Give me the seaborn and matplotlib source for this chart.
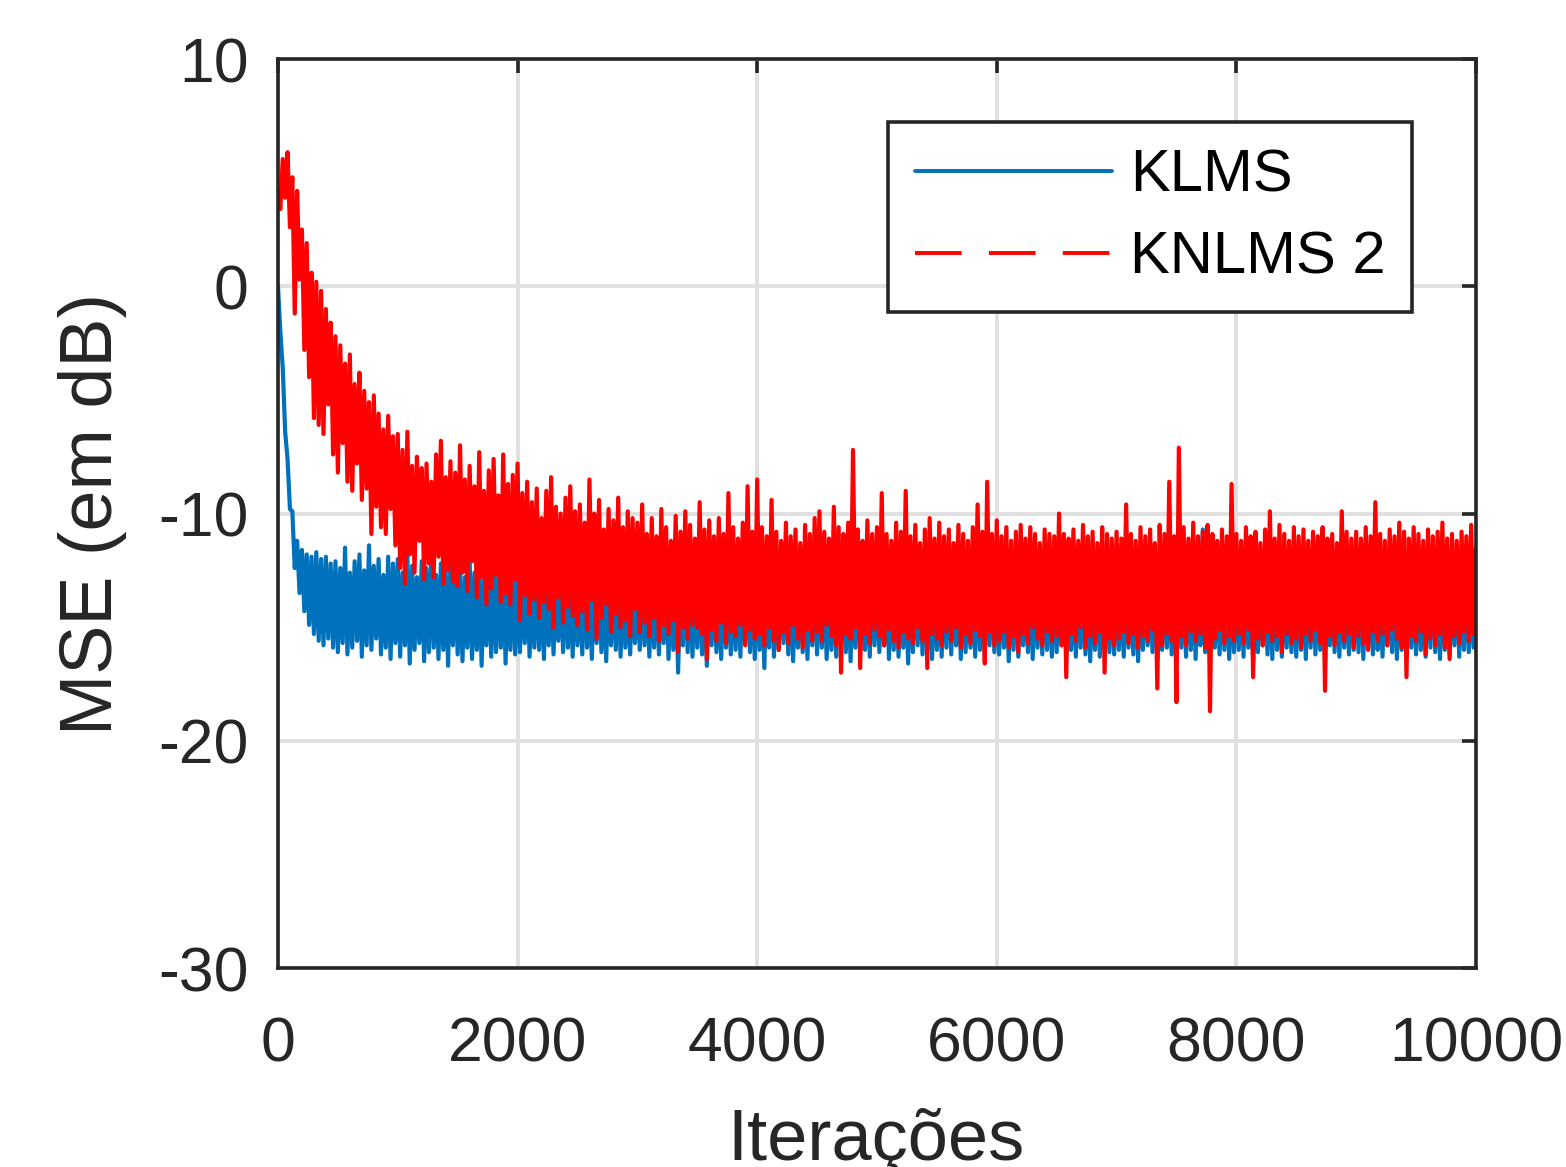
import numpy as np
import matplotlib
matplotlib.use('Agg')
import matplotlib.pyplot as plt
from matplotlib.lines import Line2D
import seaborn as sns

# iterations axis (one sample every 20 iterations)
iteracoes = np.arange(0, 10001, 20)

# MSE curves in dB (one line = 500 iterations);
# the values swing between the upper and lower edge of the noisy band
klms_db = [
    0.0, -2.0, -3.6, -6.4, -7.6, -9.8, -9.9, -12.4, -11.2, -13.5, -11.6, -14.3, -11.8, -14.9, -11.9, -15.3, -11.7, -15.6, -12.0, -15.8, -11.9, -15.5, -12.2, -15.9, -12.1,
    -16.1, -12.4, -15.7, -11.5, -16.2, -12.6, -15.9, -12.1, -15.6, -11.8, -16.3, -12.5, -15.8, -11.4, -16.0, -12.3, -15.5, -12.0, -16.2, -12.7, -15.9, -11.9, -16.4, -12.2, -15.7,
    -12.0, -16.3, -12.6, -15.8, -11.8, -16.6, -12.3, -16.0, -12.8, -15.7, -12.1, -16.5, -12.4, -16.1, -11.9, -15.9, -12.7, -16.4, -12.2, -16.0, -12.5, -16.7, -12.0, -15.8, -12.6,
    -16.2, -12.3, -16.5, -12.8, -15.9, -12.1, -16.4, -12.6, -16.0, -12.2, -16.7, -12.9, -15.8, -12.4, -16.3, -12.0, -16.1, -12.7, -15.9, -12.3, -16.6, -12.5, -16.0, -12.2, -16.2,
    -12.4, -16.1, -12.8, -15.7, -12.2, -16.3, -12.9, -15.9, -12.5, -16.0, -12.1, -16.4, -12.7, -15.8, -12.3, -16.2, -13.0, -15.6, -12.6, -16.1, -12.2, -15.9, -12.8, -16.3, -12.4,
    -15.8, -12.6, -16.2, -12.3, -15.9, -12.9, -16.4, -12.5, -15.7, -12.1, -16.1, -12.7, -16.5, -12.4, -15.8, -12.8, -16.0, -12.2, -16.3, -12.6, -15.9, -13.0, -16.2, -12.5, -15.7,
    -12.7, -16.0, -12.3, -15.8, -12.9, -16.3, -12.5, -15.9, -12.1, -16.2, -12.8, -15.7, -12.4, -16.4, -12.6, -16.0, -12.2, -17.0, -12.9, -15.8, -12.5, -16.1, -12.3, -16.3, -12.7,
    -15.9, -12.4, -16.2, -12.8, -16.7, -12.3, -15.8, -12.6, -16.1, -12.9, -16.4, -12.2, -15.9, -12.7, -16.2, -12.5, -16.0, -12.1, -16.3, -12.8, -15.7, -12.4, -16.1, -12.6, -16.4,
    -12.3, -16.0, -12.7, -16.8, -12.5, -15.9, -12.2, -16.3, -12.9, -16.0, -12.4, -15.7, -12.6, -16.2, -12.1, -16.5, -12.8, -15.9, -12.3, -16.1, -12.7, -16.4, -12.5, -15.8, -12.2,
    -16.2, -12.6, -15.9, -12.3, -16.4, -12.8, -16.0, -12.2, -16.3, -12.7, -15.8, -12.4, -16.1, -12.9, -16.5, -12.5, -15.9, -12.1, -16.2, -12.6, -16.0, -12.8, -16.3, -12.3, -15.8,
    -12.5, -16.1, -12.9, -15.8, -12.3, -16.4, -12.6, -16.0, -12.2, -16.3, -12.8, -15.9, -12.4, -16.6, -12.7, -16.1, -12.1, -15.8, -12.5, -16.2, -12.9, -16.0, -12.3, -16.4, -12.6,
    -16.0, -12.4, -16.3, -12.8, -15.9, -12.2, -16.2, -12.6, -15.8, -12.9, -16.4, -12.5, -16.1, -12.3, -15.9, -12.7, -16.3, -12.1, -16.0, -12.6, -16.2, -12.8, -15.8, -12.4, -16.1,
    -12.7, -16.2, -12.3, -15.9, -12.8, -16.5, -12.4, -16.0, -12.6, -16.3, -12.2, -15.8, -12.9, -16.1, -12.5, -16.4, -12.3, -15.9, -12.7, -16.2, -12.4, -16.0, -12.8, -16.3, -12.2,
    -16.1, -12.5, -15.8, -12.9, -16.4, -12.3, -16.0, -12.7, -16.3, -12.2, -15.9, -12.6, -16.2, -12.8, -16.5, -12.4, -16.0, -12.1, -16.3, -12.7, -15.8, -12.5, -16.1, -12.9, -16.2,
    -12.3, -16.0, -12.7, -16.3, -12.4, -15.9, -12.8, -16.2, -12.2, -16.5, -12.6, -16.0, -12.9, -15.8, -12.5, -16.1, -12.3, -16.4, -12.7, -16.0, -12.4, -15.9, -12.8, -16.2, -12.6,
    -16.2, -12.5, -15.9, -12.8, -16.3, -12.3, -16.0, -12.6, -16.4, -12.2, -15.8, -10.7, -16.1, -12.7, -16.3, -12.4, -15.9, -12.8, -16.2, -12.5, -16.0, -12.3, -16.4, -12.7, -16.1,
    -12.4, -16.0, -12.8, -16.3, -12.2, -15.9, -12.6, -16.5, -12.9, -16.1, -12.3, -15.8, -12.7, -16.2, -12.5, -16.4, -12.1, -16.0, -12.6, -16.3, -12.8, -15.9, -12.4, -16.1, -12.7,
    -16.3, -12.5, -16.0, -12.9, -16.4, -12.2, -15.9, -12.6, -16.2, -12.8, -16.0, -12.3, -16.5, -12.7, -15.8, -12.4, -16.1, -12.6, -16.3, -12.2, -15.9, -12.8, -16.2, -12.5, -16.0,
    -12.6, -16.1, -12.3, -16.4, -12.8, -15.9, -12.5, -16.2, -11.0, -16.0, -12.7, -16.3, -12.4, -15.8, -12.9, -16.1, -12.2, -16.4, -12.6, -16.0, -12.8, -16.2, -12.3, -15.9, -12.7,
    -16.2, -12.4, -16.0, -12.8, -16.3, -12.2, -15.9, -11.5, -16.1, -12.6, -16.4, -12.3, -16.0, -12.7, -16.2, -12.5, -15.8, -12.1, -16.3, -12.6, -16.0, -12.4, -16.1, -12.8, -15.9,
    -12.6,
]

knlms2_db = [
    3.8, 3.4, 5.6, 3.9, 5.9, 2.6, 4.8, -1.2, 4.2, 0.3, 2.5, -2.8, 1.9, -4.0, 0.6, -5.8, 0.2, -6.1, -0.2, -6.5, -1.0, -5.2, -1.6, -7.4, -2.2,
    -8.2, -2.6, -6.9, -3.4, -8.6, -3.0, -9.0, -4.3, -7.8, -3.8, -9.4, -4.6, -8.9, -5.1, -10.9, -4.8, -9.7, -5.6, -10.6, -6.3, -10.9, -5.7, -9.8, -6.6, -11.4,
    -6.5, -12.4, -7.2, -13.1, -6.4, -11.8, -7.9, -12.6, -7.5, -11.2, -8.0, -12.9, -7.8, -12.2, -8.6, -12.8, -7.4, -11.9, -6.8, -13.1, -8.4, -12.5, -7.7, -13.0, -8.2,
    -13.2, -7.0, -12.6, -8.5, -13.4, -7.9, -12.1, -8.8, -13.7, -7.3, -12.8, -9.0, -14.0, -8.1, -13.3, -7.6, -12.7, -9.2, -13.9, -7.4, -13.5, -8.7, -14.0, -8.3, -12.9,
    -7.8, -14.7, -9.1, -13.6, -8.6, -14.4, -9.5, -13.8, -8.9, -14.6, -10.2, -13.9, -9.0, -14.2, -8.4, -15.0, -9.7, -13.7, -10.0, -14.8, -9.3, -14.1, -8.8, -14.5, -9.9,
    -14.9, -9.6, -14.3, -10.4, -15.1, -8.5, -13.8, -10.0, -15.5, -9.4, -14.6, -10.7, -14.0, -9.8, -15.2, -10.3, -14.4, -9.3, -15.0, -10.6, -14.7, -9.9, -15.4, -10.2, -14.2,
    -10.4, -15.2, -9.6, -14.8, -10.9, -15.4, -10.2, -14.6, -11.0, -15.6, -9.8, -14.9, -10.6, -15.3, -11.2, -14.7, -10.1, -16.1, -10.8, -15.0, -9.9, -15.5, -10.5, -14.9, -11.1,
    -15.0, -9.5, -15.3, -10.7, -16.4, -10.3, -15.1, -11.0, -15.6, -10.2, -14.8, -10.9, -15.7, -9.1, -15.2, -10.6, -15.4, -11.1, -14.9, -10.4, -15.8, -8.8, -15.1, -10.8, -15.5,
    -8.5, -15.3, -10.6, -15.8, -11.0, -15.0, -9.4, -15.6, -10.8, -16.0, -11.2, -15.2, -10.4, -15.7, -11.0, -14.9, -10.7, -15.5, -11.3, -15.9, -10.5, -15.1, -10.9, -15.6, -10.2,
    -15.2, -9.9, -15.6, -10.8, -14.9, -11.1, -15.4, -9.7, -15.8, -10.6, -17.0, -10.9, -15.3, -10.4, -15.5, -7.2, -15.0, -10.7, -16.8, -11.2, -15.3, -10.3, -15.7, -10.9, -15.1,
    -10.6, -15.4, -9.1, -15.8, -10.9, -15.1, -11.2, -15.6, -10.4, -15.9, -10.8, -15.2, -9.0, -15.5, -11.0, -15.7, -10.5, -15.0, -11.3, -15.6, -10.7, -16.8, -10.2, -15.3, -11.1,
    -15.5, -10.4, -15.8, -11.0, -15.2, -10.7, -15.6, -11.3, -15.0, -10.5, -15.9, -10.9, -15.3, -11.2, -15.7, -10.6, -15.1, -9.6, -15.4, -10.8, -16.6, -8.6, -15.2, -10.9, -15.8,
    -10.3, -15.6, -11.0, -15.2, -10.6, -15.9, -11.2, -15.4, -10.8, -16.1, -10.5, -15.3, -11.1, -15.7, -10.6, -15.0, -10.9, -15.5, -11.3, -15.8, -10.7, -15.2, -10.9, -15.6, -11.0,
    -15.4, -10.0, -15.8, -10.9, -17.2, -11.1, -15.3, -10.7, -15.6, -11.2, -15.0, -10.5, -15.9, -11.0, -15.4, -10.8, -15.7, -11.3, -15.2, -10.6, -17.0, -10.9, -15.5, -11.1, -15.8,
    -10.8, -15.5, -11.1, -15.2, -9.6, -15.7, -10.9, -15.3, -11.2, -15.9, -10.6, -15.4, -11.0, -15.6, -10.7, -15.1, -11.3, -17.7, -10.5, -15.8, -10.9, -15.3, -8.6, -15.6, -11.0,
    -18.3, -7.1, -15.4, -10.6, -15.8, -11.1, -15.2, -10.4, -15.6, -11.0, -15.3, -10.8, -15.9, -10.5, -18.7, -10.9, -15.5, -11.2, -15.1, -10.7, -15.7, -11.0, -15.4, -8.7, -15.6,
    -10.9, -15.3, -11.2, -15.7, -10.6, -15.1, -11.0, -17.2, -10.8, -15.5, -11.3, -15.8, -10.7, -15.2, -9.9, -15.6, -11.1, -15.4, -10.5, -16.1, -10.9, -15.3, -11.2, -15.7, -10.6,
    -15.5, -11.0, -15.9, -10.7, -15.3, -11.2, -15.6, -10.8, -15.1, -11.0, -15.7, -10.6, -17.8, -11.1, -15.4, -10.9, -15.8, -11.3, -15.2, -9.9, -15.6, -10.8, -15.3, -11.1, -15.9,
    -10.8, -15.4, -11.1, -15.7, -10.6, -16.0, -11.0, -15.2, -9.5, -15.6, -10.9, -15.3, -11.2, -15.8, -10.7, -15.1, -11.0, -15.5, -10.4, -15.9, -10.8, -17.2, -11.1, -15.4, -10.6,
    -15.6, -10.9, -15.2, -11.2, -16.2, -10.7, -15.5, -11.0, -15.8, -10.8, -15.3, -10.4, -15.9, -11.1, -16.4, -10.9, -15.4, -11.2, -15.7, -10.8, -15.2, -11.0, -15.6, -10.5, -15.3,
    -11.5,
]

sns.set_theme(style='white')
plt.rcParams['font.family'] = ['Liberation Sans', 'DejaVu Sans']
plt.rcParams['axes.unicode_minus'] = False

dark = '#262626'
azul = '#0072BD'
vermelho = '#FF0000'
lw = 3.0

fig = plt.figure(figsize=(15.66, 11.67), dpi=100)
ax = fig.add_axes([0.1775, 0.1705, 0.765, 0.7789])

# the dense red curve looks solid at this scale, the dashes only show in the legend
sns.lineplot(x=iteracoes, y=klms_db, ax=ax, color=azul, linewidth=lw,
             estimator=None, sort=False, legend=False)
sns.lineplot(x=iteracoes, y=knlms2_db, ax=ax, color=vermelho, linewidth=lw,
             estimator=None, sort=False, legend=False)

ax.set_xlim(0, 10000)
ax.set_ylim(-30, 10)
ax.set_xticks(np.arange(0, 10001, 2000))
ax.set_yticks(np.arange(-30, 11, 10))
ax.grid(True, color='#E0E0E0', linewidth=2.8)
ax.set_axisbelow(True)

for sp in ax.spines.values():
    sp.set_color(dark)
    sp.set_linewidth(2.6)
ax.tick_params(direction='in', length=10, width=2.6, colors=dark, labelsize=45,
               top=True, right=True)
ax.tick_params(axis='y', pad=21)
ax.tick_params(axis='x', pad=34)

ax.set_xlabel('Iterações', fontsize=52, color=dark)
ax.set_ylabel('MSE (em dB)', fontsize=53, color=dark)
ax.xaxis.set_label_coords(0.499, -0.154)
ax.yaxis.set_label_coords(-0.126, 0.5)

handles = [Line2D([], [], color=azul, linewidth=2.8),
           Line2D([], [], color=vermelho, linewidth=2.8, linestyle=(0, (12, 7)))]
leg = ax.legend(handles, ['KLMS', 'KNLMS 2'], loc='upper right',
                bbox_to_anchor=(0.947, 0.931), fontsize=43,
                handlelength=3.3, handletextpad=0.3, borderpad=0.45,
                labelspacing=0.45, frameon=True, fancybox=False,
                edgecolor=dark, framealpha=1, borderaxespad=0)
leg.get_frame().set_linewidth(2.6)
for t in leg.get_texts():
    t.set_color('black')

fig.savefig('out.png', dpi=100)
